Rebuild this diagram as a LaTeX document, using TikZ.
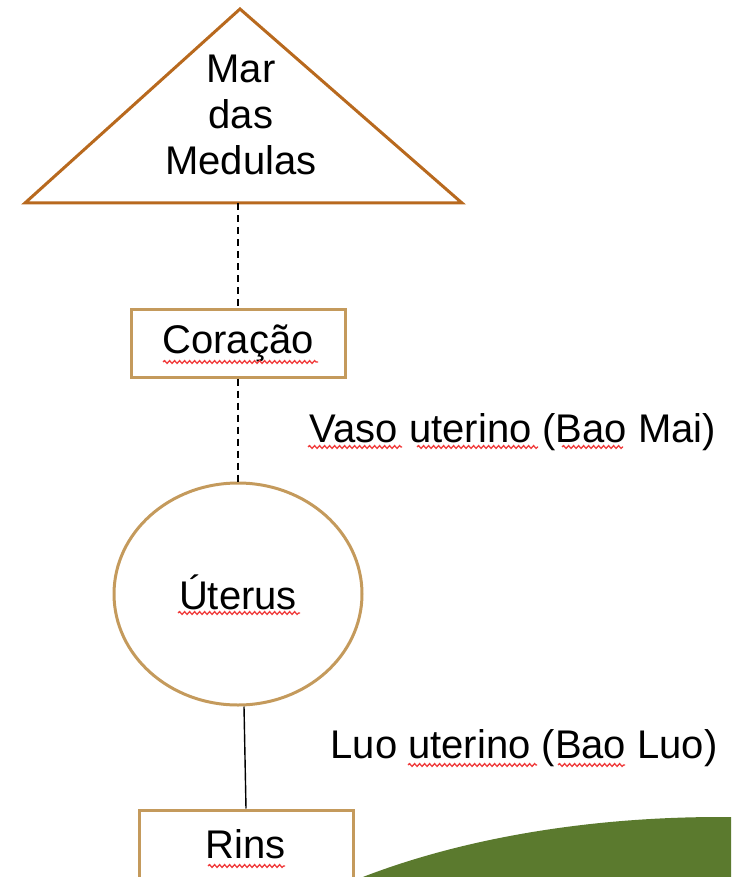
\documentclass[tikz,border=0pt]{standalone}
\usepackage{fontspec}
\setmainfont{Liberation Sans}
\usetikzlibrary{shapes.geometric, decorations.pathmorphing}
\definecolor{marBrown}{HTML}{B8691E}
\definecolor{organTan}{HTML}{C49A5C}
\definecolor{hillGreen}{HTML}{5B7A2E}
\definecolor{spellRed}{HTML}{F03C3C}
\newlength{\pix}
\setlength{\pix}{0.75pt}

\begin{document}
\begin{tikzpicture}[
    x=0.75pt, y=-0.75pt,
    every node/.style={font=\fontsize{30}{34.5}\selectfont, inner sep=0pt},
    organ/.style={rectangle, draw=organTan, line width=3\pix,
                  minimum width=214\pix, minimum height=68\pix},
    womb/.style={ellipse, draw=organTan, line width=3\pix,
                 minimum width=248\pix, minimum height=222\pix},
    meridian/.style={draw=black, line width=1.4\pix},
    spell/.style={draw=spellRed, line width=1.3\pix, decorate,
                  decoration={snake, amplitude=1.4\pix, segment length=5\pix}},
  ]
    \useasboundingbox (0,0) rectangle (731,877);

    % green hill in the corner
    \begin{scope}
      \clip (0,0) rectangle (731,877);
      \fill[hillGreen] (720,1076) ellipse [x radius=558, y radius=259];
    \end{scope}

    % sea of marrow
    \draw[marBrown, line width=3\pix, line join=miter] (240,9) -- (462,203) -- (25,203) -- cycle;
    \coordinate (marbase) at (238,203);
    \node[align=center] (mar) at (241,115) {Mar\\das\\Medulas};

    \node[organ] (coracao) at (238,343) {\raisebox{-2\pix}{Coração}};
    \node[womb] (uterus) at (238,594) {\raisebox{3\pix}{Úterus}};
    \node[organ] (rins) at (246,844) {Rins};

    \node[anchor=base] (baomai) at (513,442) {Vaso uterino (Bao Mai)};
    \node[anchor=base] (baoluo) at (524,758) {Luo uterino (Bao Luo)};

    \draw[meridian, dash pattern=on 7\pix off 5\pix] (marbase) -- (coracao.north);
    \draw[meridian, dash pattern=on 7\pix off 5\pix] (coracao.south) -- (uterus.north);
    \draw[meridian] ([xshift=6\pix]uterus.south) -- (rins.north);

    % spelling marks
    \draw[spell] (163,362) -- (318,362);
    \draw[spell] (308,447) -- (402,447);
    \draw[spell] (417,447) -- (538,447);
    \draw[spell] (562,447) -- (623,447);
    \draw[spell] (178,613) -- (300,613);
    \draw[spell] (408,765) -- (537,765);
    \draw[spell] (558,765) -- (625,765);
    \draw[spell] (208,866) -- (285,866);
  \end{tikzpicture}
\end{document}
